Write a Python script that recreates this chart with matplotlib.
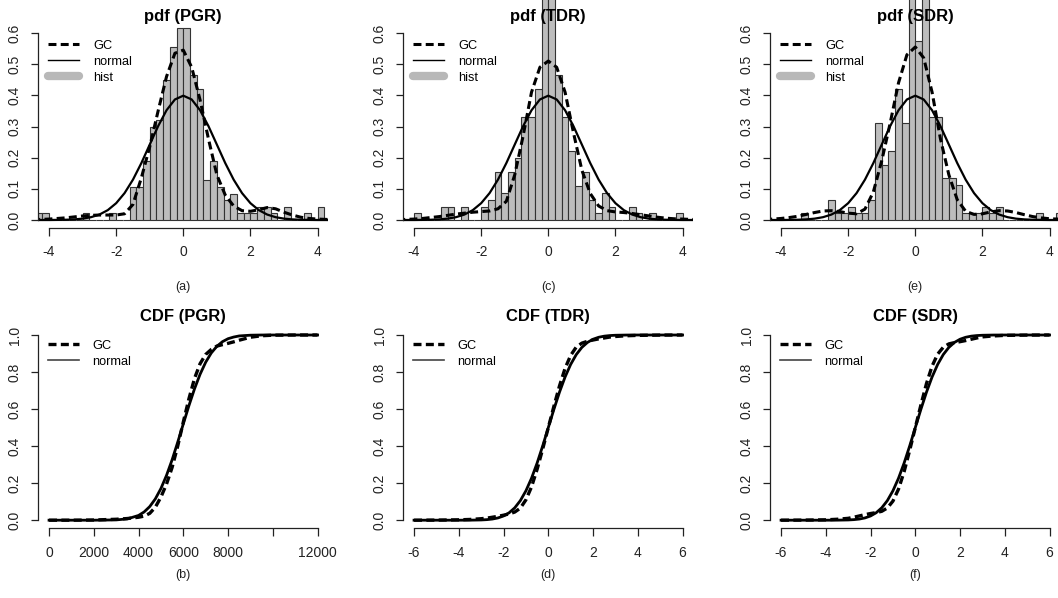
import numpy as np
import matplotlib.pyplot as plt
from matplotlib.lines import Line2D
from matplotlib.transforms import Bbox, TransformedBbox

plt.rcParams['font.family'] = ['Liberation Sans', 'DejaVu Sans']

# ---- data ----
# histogram bins (left edges, width 0.2), shared by the pdf panels
bin_left = [-4.4, -4.2, -4.0, -3.8, -3.6, -3.4, -3.2, -3.0, -2.8, -2.6, -2.4,
            -2.2, -2.0, -1.8, -1.6, -1.4, -1.2, -1.0, -0.8, -0.6, -0.4, -0.2,
            0.0, 0.2, 0.4, 0.6, 0.8, 1.0, 1.2, 1.4, 1.6, 1.8, 2.0, 2.2,
            2.4, 2.6, 2.8, 3.0, 3.2, 3.4, 3.6, 3.8, 4.0, 4.2]
bin_width = 0.2
hist_pgr = [0.021, 0.021, 0, 0, 0, 0, 0, 0.021, 0, 0, 0,
            0.021, 0, 0, 0.107, 0.107, 0.19, 0.30, 0.32, 0.45, 0.555, 0.615,
            0.615, 0.465, 0.42, 0.128, 0.19, 0.107, 0.064, 0.085, 0.021, 0.021, 0.021, 0.043,
            0.043, 0.021, 0, 0.043, 0, 0, 0.021, 0, 0.043, 0]
hist_tdr = [0, 0, 0.021, 0, 0, 0, 0.043, 0.043, 0, 0.043, 0,
            0, 0.043, 0.064, 0.155, 0.086, 0.155, 0.20, 0.33, 0.33, 0.42, 0.75,
            0.75, 0.465, 0.33, 0.22, 0.11, 0.155, 0.064, 0.021, 0.086, 0.043, 0, 0,
            0.043, 0.021, 0, 0.021, 0, 0, 0, 0.021, 0, 0]
hist_sdr = [0, 0, 0, 0, 0, 0.021, 0, 0, 0, 0.064, 0.021,
            0.021, 0.043, 0.021, 0.021, 0.064, 0.31, 0.177, 0.22, 0.42, 0.31, 0.75,
            0.575, 0.75, 0.33, 0.33, 0.134, 0.134, 0.113, 0.021, 0.021, 0.021, 0.043, 0.021,
            0.043, 0, 0, 0, 0, 0, 0.021, 0, 0, 0.021]

pdf_x = [-4.5, -4.25, -4.0, -3.75, -3.5, -3.25, -3.0, -2.75, -2.5, -2.25, -2.0,
         -1.75, -1.5, -1.25, -1.0, -0.75, -0.5, -0.25, 0.0, 0.25, 0.5, 0.75,
         1.0, 1.25, 1.5, 1.75, 2.0, 2.25, 2.5, 2.75, 3.0, 3.25, 3.5, 3.75,
         4.0, 4.25, 4.5]
normal_pdf = [0.0000, 0.0001, 0.0001, 0.0004, 0.0009, 0.0020, 0.0044, 0.0091, 0.0175, 0.0317, 0.0540,
              0.0863, 0.1295, 0.1826, 0.2420, 0.3011, 0.3521, 0.3867, 0.3989, 0.3867, 0.3521, 0.3011,
              0.2420, 0.1826, 0.1295, 0.0863, 0.0540, 0.0317, 0.0175, 0.0091, 0.0044, 0.0020, 0.0009, 0.0004,
              0.0001, 0.0001, 0.0000]
gc_pdf_pgr = [0.001, 0.002, 0.003, 0.005, 0.007, 0.010, 0.013, 0.015, 0.016, 0.016, 0.016,
              0.020, 0.050, 0.135, 0.235, 0.35, 0.46, 0.535, 0.545, 0.49, 0.385, 0.26,
              0.145, 0.08, 0.045, 0.03, 0.028, 0.033, 0.040, 0.036, 0.025, 0.016, 0.009, 0.005,
              0.003, 0.002, 0.001]
gc_pdf_tdr = [0.001, 0.002, 0.003, 0.005, 0.008, 0.011, 0.015, 0.019, 0.022, 0.025, 0.027,
              0.029, 0.036, 0.06, 0.145, 0.27, 0.41, 0.49, 0.51, 0.49, 0.41, 0.28,
              0.16, 0.085, 0.045, 0.03, 0.026, 0.024, 0.021, 0.017, 0.013, 0.009, 0.006, 0.004,
              0.003, 0.002, 0.001]
gc_pdf_sdr = [0.002, 0.003, 0.005, 0.008, 0.012, 0.018, 0.024, 0.029, 0.030, 0.027, 0.022,
              0.020, 0.035, 0.09, 0.19, 0.31, 0.44, 0.53, 0.555, 0.52, 0.41, 0.26,
              0.145, 0.065, 0.028, 0.018, 0.020, 0.026, 0.030, 0.029, 0.024, 0.017, 0.011, 0.007,
              0.004, 0.003, 0.002]

cdf_x_pgr = [0, 1000, 2000, 3000, 3500, 4000, 4250, 4500, 4750, 5000, 5250, 5500,
             5750, 6000, 6250, 6500, 6750, 7000, 7250, 7500, 7750, 8000, 8250, 8500,
             9000, 9500, 10000, 11000, 12000]
normal_cdf_pgr = [0.0, 0.0, 0.0, 0.0016, 0.0071, 0.0256, 0.0446, 0.0735, 0.115, 0.171, 0.242, 0.326,
                  0.421, 0.520, 0.618, 0.709, 0.788, 0.853, 0.903, 0.939, 0.964, 0.980, 0.989, 0.995,
                  0.999, 1.0, 1.0, 1.0, 1.0]
gc_cdf_pgr = [0.0, 0.0, 0.001, 0.005, 0.009, 0.016, 0.022, 0.037, 0.07, 0.125, 0.195, 0.285,
              0.40, 0.53, 0.655, 0.765, 0.845, 0.895, 0.922, 0.94, 0.948, 0.955, 0.963, 0.972,
              0.988, 0.996, 0.999, 1.0, 1.0]

cdf_x = [-6, -5, -4, -3.5, -3, -2.75, -2.5, -2.25, -2, -1.75, -1.5, -1.25, -1, -0.75,
         -0.5, -0.25, 0, 0.25, 0.5, 0.75, 1, 1.25, 1.5, 1.75, 2, 2.25, 2.5, 2.75,
         3, 3.5, 4, 5, 6]
normal_cdf = [0.0, 0.0, 0.0, 0.0002, 0.0013, 0.0030, 0.0062, 0.0122, 0.0228, 0.0401, 0.0668, 0.1056, 0.1587, 0.2266,
              0.3085, 0.4013, 0.5, 0.5987, 0.6915, 0.7734, 0.8413, 0.8944, 0.9332, 0.9599, 0.9772, 0.9878, 0.9938, 0.9970,
              0.9987, 0.9998, 1.0, 1.0, 1.0]
gc_cdf_tdr = [0.0, 0.0005, 0.002, 0.004, 0.008, 0.011, 0.016, 0.021, 0.027, 0.034, 0.044, 0.065, 0.11, 0.18,
              0.275, 0.385, 0.5, 0.615, 0.725, 0.82, 0.89, 0.935, 0.956, 0.966, 0.973, 0.979, 0.984, 0.989,
              0.992, 0.996, 0.998, 0.9995, 1.0]
gc_cdf_sdr = [0.0, 0.0005, 0.002, 0.005, 0.010, 0.016, 0.023, 0.030, 0.036, 0.041, 0.048, 0.066, 0.103, 0.168,
              0.262, 0.378, 0.5, 0.622, 0.738, 0.832, 0.897, 0.934, 0.952, 0.959, 0.964, 0.970, 0.977, 0.984,
              0.990, 0.995, 0.998, 0.9995, 1.0]

pdf_titles = ['pdf (PGR)', 'pdf (TDR)', 'pdf (SDR)']
cdf_titles = ['CDF (PGR)', 'CDF (TDR)', 'CDF (SDR)']
pdf_tags = ['(a)', '(c)', '(e)']
cdf_tags = ['(b)', '(d)', '(f)']

# ---- layout (pixels) ----
W, H = 1058, 598
lefts = [38.3, 403.3, 770.3]
ax_w = 290
pdf_top, pdf_h = 25.5, 202
cdf_top, cdf_h = 327.6, 200

fig = plt.figure(figsize=(W / 100, H / 100), dpi=100)

gc_style = dict(color='black', lw=2.2, ls=(0, (2.6, 1.4)))
bar_gray = '#bdbdbd'


def make_ax(left, top, h):
    return fig.add_axes([left / W, 1 - (top + h) / H, ax_w / W, h / H])


def r_style(ax, xb, yb):
    # R-like axes: only left/bottom lines spanning the ticks
    for s in ['top', 'right']:
        ax.spines[s].set_visible(False)
    for s in ['left', 'bottom']:
        ax.spines[s].set_linewidth(0.9)
        ax.spines[s].set_color('#222222')
    ax.spines['left'].set_bounds(*yb)
    ax.spines['bottom'].set_bounds(*xb)
    ax.tick_params(direction='out', length=5.4, width=0.9, color='#222222',
                   labelsize=10, labelcolor='#222222')
    ax.tick_params(axis='x', pad=7.5)
    ax.tick_params(axis='y', pad=6.5)
    plt.setp(ax.get_yticklabels(), rotation=90, va='center', ha='right')
    ax.patch.set_alpha(0)


pdf_data = [(hist_pgr, gc_pdf_pgr), (hist_tdr, gc_pdf_tdr), (hist_sdr, gc_pdf_sdr)]
for i, (hist, gc) in enumerate(pdf_data):
    ax = make_ax(lefts[i], pdf_top, pdf_h)
    bars = ax.bar(bin_left, hist, width=bin_width, align='edge', color=bar_gray,
                  edgecolor='#333333', linewidth=0.8)
    # tall bars run up past the plot region (clipped only at the sides)
    clip = TransformedBbox(Bbox([[0, 0], [1, 3]]), ax.transAxes)
    for b in bars:
        b.set_clip_box(clip)
    ax.plot(pdf_x, gc, **gc_style)
    ax.plot(pdf_x, normal_pdf, color='black', lw=1.6)
    ax.set_xlim(-4.32, 4.32)
    ax.set_ylim(-0.024, 0.624)
    ax.set_xticks([-4, -2, 0, 2, 4])
    ax.set_xticklabels(['-4', '-2', '0', '2', '4'])
    ax.set_yticks([0, 0.1, 0.2, 0.3, 0.4, 0.5, 0.6])
    ax.set_yticklabels(['0.0', '0.1', '0.2', '0.3', '0.4', '0.5', '0.6'])
    r_style(ax, (-4, 4), (0, 0.6))
    ax.text(0.5, 1.045, pdf_titles[i], transform=ax.transAxes, ha='center',
            va='center', fontsize=12, fontweight='bold', zorder=10)
    handles = [Line2D([], [], **gc_style),
               Line2D([], [], color='black', lw=1.0),
               Line2D([], [], color='#b8b8b8', lw=6, solid_capstyle='round')]
    ax.legend(handles, ['GC', 'normal', 'hist'], loc='upper left',
              bbox_to_anchor=(0.033, 0.93), frameon=False, fontsize=9.2,
              handlelength=2.4, handletextpad=1.15, labelspacing=0.32,
              borderpad=0, borderaxespad=0)
    fig.text((lefts[i] + ax_w / 2) / W, 1 - 287 / H, pdf_tags[i],
             ha='center', va='center', fontsize=9, color='#222222')

cdf_data = [(cdf_x_pgr, normal_cdf_pgr, gc_cdf_pgr),
            (cdf_x, normal_cdf, gc_cdf_tdr),
            (cdf_x, normal_cdf, gc_cdf_sdr)]
for i, (xs, norm_c, gc_c) in enumerate(cdf_data):
    ax = make_ax(lefts[i], cdf_top, cdf_h)
    ax.plot(xs, norm_c, color='black', lw=2.0)
    ax.plot(xs, gc_c, color='black', lw=2.4, ls=(0, (2.4, 1.3)))
    if i == 0:
        ax.set_xlim(-480, 12480)
        ax.set_xticks([0, 2000, 4000, 6000, 8000, 10000, 12000])
        ax.set_xticklabels(['0', '2000', '4000', '6000', '8000', '', '12000'])
        xb = (0, 12000)
    else:
        ax.set_xlim(-6.48, 6.48)
        ax.set_xticks([-6, -4, -2, 0, 2, 4, 6])
        ax.set_xticklabels(['-6', '-4', '-2', '0', '2', '4', '6'])
        xb = (-6, 6)
    ax.set_ylim(-0.04, 1.04)
    ax.set_yticks([0, 0.2, 0.4, 0.6, 0.8, 1.0])
    ax.set_yticklabels(['0.0', '0.2', '0.4', '0.6', '0.8', '1.0'])
    r_style(ax, xb, (0, 1))
    ax.text(0.5, 1.058, cdf_titles[i], transform=ax.transAxes, ha='center',
            va='center', fontsize=12, fontweight='bold')
    handles = [Line2D([], [], color='black', lw=2.4, ls=(0, (2.4, 1.3))),
               Line2D([], [], color='#444444', lw=1.2)]
    ax.legend(handles, ['GC', 'normal'], loc='upper left',
              bbox_to_anchor=(0.033, 0.94), frameon=False, fontsize=9.2,
              handlelength=2.4, handletextpad=1.05, labelspacing=0.32,
              borderpad=0, borderaxespad=0)
    fig.text((lefts[i] + ax_w / 2) / W, 1 - 575 / H, cdf_tags[i],
             ha='center', va='center', fontsize=9, color='#222222')

fig.savefig('out.png', dpi=100)
